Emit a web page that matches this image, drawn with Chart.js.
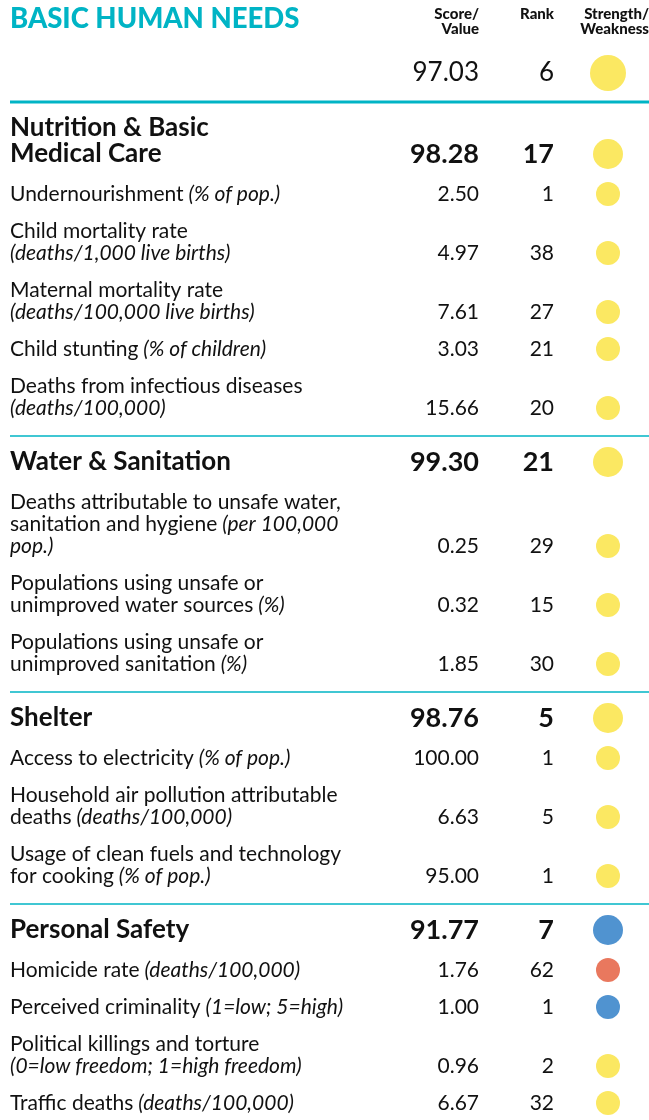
<!DOCTYPE html>
<html>
<head>
<meta charset="utf-8">
<script src="https://cdn.jsdelivr.net/npm/chart.js@4.4.0/dist/chart.umd.min.js"></script>
<style>
  html, body { margin: 0; padding: 0; background: #fff; }
  #wrap { width: 649px; height: 1120px; }
</style>
</head>
<body>
<div id="wrap"><canvas id="scorecard" width="649" height="1120"></canvas></div>
<script>
// overall
const overallScore = 97.03;
const overallRank = 6;
const overallStrength = "neutral";

// components ("|" = line break)
const sectionNames = ["Nutrition & Basic|Medical Care", "Water & Sanitation", "Shelter", "Personal Safety"];
const sectionScores = [98.28, 99.30, 98.76, 91.77];
const sectionRanks = [17, 21, 5, 7];
const sectionStrength = ["neutral", "neutral", "neutral", "strength"];

// indicators
const indicatorNames = [
  "Undernourishment",
  "Child mortality rate|",
  "Maternal mortality rate|",
  "Child stunting",
  "Deaths from infectious diseases|",
  "Deaths attributable to unsafe water,|sanitation and hygiene",
  "Populations using unsafe or|unimproved water sources",
  "Populations using unsafe or|unimproved sanitation",
  "Access to electricity",
  "Household air pollution attributable|deaths",
  "Usage of clean fuels and technology|for cooking",
  "Homicide rate",
  "Perceived criminality",
  "Political killings and torture|",
  "Traffic deaths"
];
const indicatorUnits = [
  "(% of pop.)",
  "(deaths/1,000 live births)",
  "(deaths/100,000 live births)",
  "(% of children)",
  "(deaths/100,000)",
  "(per 100,000|pop.)",
  "(%)",
  "(%)",
  "(% of pop.)",
  "(deaths/100,000)",
  "(% of pop.)",
  "(deaths/100,000)",
  "(1=low; 5=high)",
  "(0=low freedom; 1=high freedom)",
  "(deaths/100,000)"
];
const indicatorValues = [2.50, 4.97, 7.61, 3.03, 15.66, 0.25, 0.32, 1.85, 100.00, 6.63, 95.00, 1.76, 1.00, 0.96, 6.67];
const indicatorRanks = [1, 38, 27, 21, 20, 29, 15, 30, 1, 5, 1, 62, 1, 2, 32];
const indicatorStrength = ["neutral", "neutral", "neutral", "neutral", "neutral", "neutral", "neutral", "neutral",
  "neutral", "neutral", "neutral", "weakness", "strength", "neutral", "neutral"];
const indicatorSection = [0, 0, 0, 0, 0, 1, 1, 1, 2, 2, 2, 3, 3, 3, 3];

const strengthColors = { neutral: "#fbe862", strength: "#5093d0", weakness: "#e9785e" };
const TEAL = "#00b4c5";
const INK = "#111111";
const FONT = "Lato, 'Noto Sans', sans-serif";
const SCORE_X = 479, RANK_X = 554, DOT_X = 608;

function splitLines(segs) {
  const lines = [[]];
  segs.forEach((sg) => {
    sg.t.split("|").forEach((part, i) => {
      if (i > 0) lines.push([]);
      const cur = lines[lines.length - 1];
      const txt = cur.length ? part : part.replace(/^\s+/, "");
      if (txt) cur.push({ t: txt, it: sg.it });
    });
  });
  return lines;
}

// stack the rows top to bottom
let rows = [];
let dividers = [];
let cursor = 102;
sectionNames.forEach((name, s) => {
  const hl = splitLines([{ t: name, it: false }]);
  const top = cursor + 26;
  const hy = top + (hl.length - 1) * 26;
  rows.push({ kind: "section", lines: hl, top: top, y: hy, score: sectionScores[s], rank: sectionRanks[s], strength: sectionStrength[s] });
  let prev = hy;
  let first = true;
  indicatorNames.forEach((n, i) => {
    if (indicatorSection[i] !== s) return;
    const ll = splitLines([{ t: n, it: false }, { t: " " + indicatorUnits[i], it: true }]);
    const t = prev + (first ? 40 : 37);
    const last = t + (ll.length - 1) * 22;
    rows.push({ kind: "indicator", lines: ll, top: t, y: last, score: indicatorValues[i], rank: indicatorRanks[i], strength: indicatorStrength[i] });
    prev = last;
    first = false;
  });
  cursor = prev + 28;
  if (s < sectionNames.length - 1) dividers.push(cursor);
});

let points = [{ x: DOT_X, y: 73 }];
let colors = [strengthColors[overallStrength]];
let radii = [18];
rows.forEach((r) => {
  points.push({ x: DOT_X, y: r.y });
  colors.push(strengthColors[r.strength]);
  radii.push(r.kind === "section" ? 15 : 12);
});

const textPlugin = {
  id: "scorecardText",
  beforeDatasetsDraw(chart) {
    const ctx = chart.ctx;
    const px = (v) => chart.scales.x.getPixelForValue(v);
    const py = (v) => chart.scales.y.getPixelForValue(v);
    ctx.save();
    ctx.textBaseline = "middle";

    // title + column heads
    ctx.fillStyle = TEAL;
    ctx.textAlign = "left";
    ctx.font = "900 27.5px " + FONT;
    ctx.fillText("BASIC HUMAN NEEDS", px(10), py(19));
    ctx.fillStyle = INK;
    ctx.textAlign = "right";
    ctx.font = "900 15px " + FONT;
    ctx.fillText("Score/", px(SCORE_X), py(14));
    ctx.fillText("Value", px(SCORE_X), py(29));
    ctx.fillText("Rank", px(RANK_X), py(14));
    ctx.fillText("Strength/", px(649), py(14));
    ctx.fillText("Weakness", px(649), py(29));

    ctx.font = "26px " + FONT;
    ctx.fillText(overallScore.toFixed(2), px(SCORE_X), py(73));
    ctx.fillText(String(overallRank), px(RANK_X), py(73));

    // rules
    ctx.strokeStyle = TEAL;
    ctx.lineWidth = 3;
    ctx.beginPath();
    ctx.moveTo(px(10), py(102));
    ctx.lineTo(px(649), py(102));
    ctx.stroke();
    ctx.lineWidth = 1.5;
    dividers.forEach((d) => {
      ctx.beginPath();
      ctx.moveTo(px(10), py(d));
      ctx.lineTo(px(649), py(d));
      ctx.stroke();
    });

    rows.forEach((r) => {
      const big = r.kind === "section";
      const lh = big ? 26 : 22;
      r.lines.forEach((line, li) => {
        let x = px(10);
        ctx.textAlign = "left";
        line.forEach((sg) => {
          ctx.font = (big ? "bold 26px " : (sg.it ? "italic 21px " : "21px ")) + FONT;
          ctx.fillText(sg.t, x, py(r.top + li * lh));
          x += ctx.measureText(sg.t).width;
        });
      });
      ctx.textAlign = "right";
      ctx.font = (big ? "bold 27px " : "21px ") + FONT;
      ctx.fillText(r.score.toFixed(2), px(SCORE_X), py(r.y));
      ctx.fillText(String(r.rank), px(RANK_X), py(r.y));
    });
    ctx.restore();
  }
};

new Chart(document.getElementById("scorecard"), {
  type: "scatter",
  data: {
    datasets: [{
      data: points,
      pointBackgroundColor: colors,
      pointBorderWidth: 0,
      pointRadius: radii,
      pointHoverRadius: radii
    }]
  },
  options: {
    responsive: false,
    animation: false,
    layout: { padding: 0, autoPadding: false },
    plugins: { legend: { display: false }, tooltip: { enabled: false } },
    scales: {
      x: { type: "linear", min: 0, max: 649, display: false },
      y: { type: "linear", min: 0, max: 1120, reverse: true, display: false }
    }
  },
  plugins: [textPlugin]
});
</script>
</body>
</html>
